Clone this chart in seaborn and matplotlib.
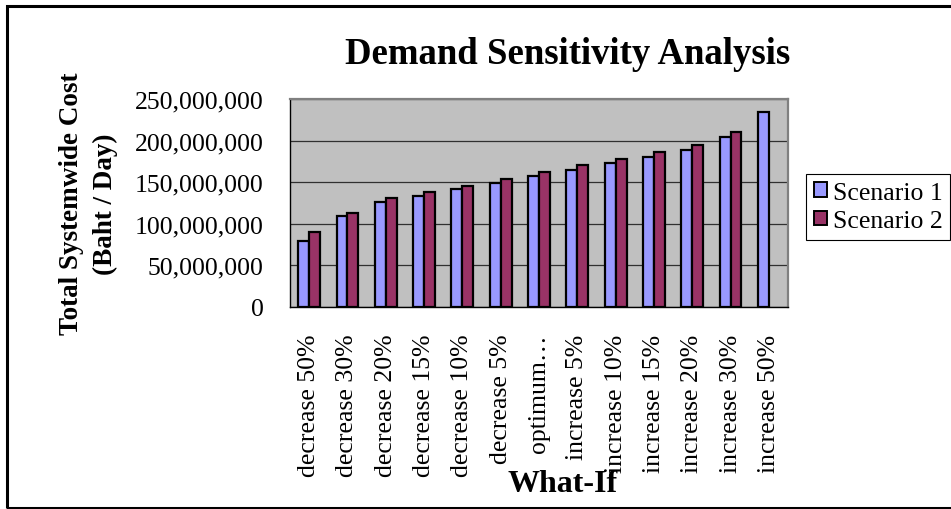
"""
plot.py — Demand sensitivity analysis bar chart
"""

import numpy as np
import pandas as pd
import matplotlib.pyplot as plt
import matplotlib.patches as mpatches
from matplotlib.ticker import FuncFormatter
import seaborn as sns

CATEGORIES = ["decrease 50%", "decrease 30%", "decrease 20%", "decrease 15%",
              "decrease 10%", "decrease 5%", "optimum…", "increase 5%",
              "increase 10%", "increase 15%", "increase 20%", "increase 30%",
              "increase 50%"]
SCENARIO_1 = [79e6, 109.8e6, 125.8e6, 133.4e6, 141.4e6, 149.4e6, 157.1e6,
              165.0e6, 172.7e6, 180.3e6, 188.3e6, 204.0e6, 234.7e6]
SCENARIO_2 = [89.8e6, 113.4e6, 131.0e6, 138.2e6, 145.8e6, 154.2e6, 161.9e6,
              170.3e6, 177.9e6, 186.7e6, 194.3e6, 210.3e6, np.nan]
SERIES = ["Scenario 1", "Scenario 2"]
COLORS = {"Scenario 1": "#9999FF", "Scenario 2": "#993366"}

W, H = 951, 510

df = pd.DataFrame({"what_if": CATEGORIES, "Scenario 1": SCENARIO_1,
                   "Scenario 2": SCENARIO_2})
long = df.melt(id_vars="what_if", var_name="scenario", value_name="cost")

sns.set_style("white")
plt.rcParams["font.family"] = ["Liberation Serif", "DejaVu Serif"]
plt.rcParams.update({"text.color": "black", "axes.labelcolor": "black",
                     "xtick.color": "black", "ytick.color": "black"})

fig = plt.figure(figsize=(W / 100, H / 100), dpi=100)
ax = fig.add_axes([290 / W, 1 - 308 / H, 498 / W, 208 / H])
ax.set_facecolor("#C0C0C0")

sns.barplot(data=long, x="what_if", y="cost", hue="scenario",
            order=CATEGORIES, hue_order=SERIES, palette=COLORS,
            width=0.57, gap=0, edgecolor="black", linewidth=1.6,
            saturation=1, legend=False, ax=ax)

# axes / grid
ax.set_ylim(0, 250e6)
ax.set_yticks(np.arange(0, 250e6 + 1, 50e6))
ax.yaxis.set_major_formatter(FuncFormatter(lambda v, _: f"{v:,.0f}"))
ax.set_axisbelow(True)
ax.yaxis.grid(True, color="#303030", linewidth=0.9)
ax.xaxis.grid(False)

ax.set_xlim(-0.5, len(CATEGORIES) - 0.5)
ax.set_xticks(range(len(CATEGORIES)))
ax.set_xticklabels(CATEGORIES, rotation=90, fontsize=18.5)
ax.set_xticks(np.arange(-0.5, len(CATEGORIES), 1), minor=True)
ax.tick_params(axis="x", which="major", length=0, pad=19)
ax.tick_params(axis="x", which="minor", length=6, width=1, color="black",
               direction="out")
ax.tick_params(axis="y", length=6, width=1, color="black", direction="out",
               labelsize=18.5, pad=13)

for side in ["left", "bottom"]:
    ax.spines[side].set_color("black")
    ax.spines[side].set_linewidth(1)
for side in ["top", "right"]:
    ax.spines[side].set_color("#808080")
    ax.spines[side].set_linewidth(1.6)

# labels
ax.set_ylabel("Total Systemwide Cost\n(Baht / Day)", fontsize=19.5,
              fontweight="bold", va="center", linespacing=1.45)
ax.yaxis.set_label_coords((88.5 - 290) / 498, 0.5)
ax.set_xlabel("What-If", fontsize=23, fontweight="bold", va="center")
ax.xaxis.set_label_coords((562.5 - 290) / 498, (308 - 485) / 208)

fig.text(567.5 / W, 1 - 55 / H, "Demand Sensitivity Analysis",
         fontsize=26.5, fontweight="bold", ha="center", va="center")

handles = [mpatches.Patch(facecolor=COLORS[s], edgecolor="black",
                          linewidth=1.4) for s in SERIES]
leg = ax.legend(handles, SERIES, loc="upper left",
                bbox_to_anchor=(806 / W, 1 - 175 / H),
                bbox_transform=fig.transFigure, borderaxespad=0,
                fontsize=18.5, handlelength=0.5, handleheight=0.5,
                handletextpad=0.25, labelspacing=0.25, borderpad=0.3,
                fancybox=False, framealpha=1)
leg.get_frame().set_edgecolor("black")
leg.get_frame().set_linewidth(0.8)

# outer chart border
fig.patches.append(mpatches.Rectangle(
    (6.5 / W, 1.5 / H), 1.2, (508.5 - 6.5) / H, transform=fig.transFigure,
    fill=False, edgecolor="black", linewidth=2.2))

plt.savefig("out.png", dpi=100)
plt.close()
